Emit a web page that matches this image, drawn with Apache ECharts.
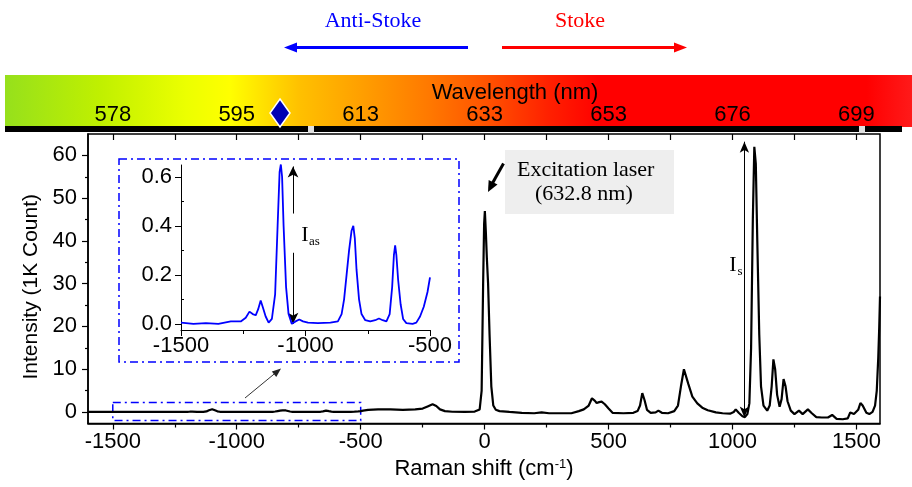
<!DOCTYPE html>
<html>
<head>
<meta charset="utf-8">
<script src="https://cdn.jsdelivr.net/npm/echarts@6/dist/echarts.min.js"></script>
<style>html,body{margin:0;padding:0;background:#fff}#c{width:912px;height:487px}</style>
</head>
<body>
<div id="c"></div>
<script>
// ---- data (Raman shift in cm^-1, intensity in 1K counts) ----
const ramanShift = [-1600,-1550,-1500,-1450,-1400,-1350,-1300,-1260,-1240,-1225,-1212,-1200,-1190,-1180,-1172,-1160,-1148,-1135,-1122,-1112,-1104,-1099,-1094,-1088,-1078,-1068,-1055,-1040,-1025,-1010,-990,-950,-900,-870,-855,-845,-835,-825,-815,-808,-802,-795,-785,-775,-760,-740,-720,-705,-690,-675,-662,-652,-645,-640,-635,-628,-618,-608,-595,-570,-555,-540,-525,-510,-500,-490,-470,-430,-380,-330,-280,-250,-230,-210,-195,-180,-160,-130,-80,-40,-20,-12,-6,-2,1,5,9,14,20,27,35,45,60,100,150,200,230,260,300,350,380,400,420,433,445,452,462,472,485,500,516,560,600,617,627,636,645,655,670,690,701,715,740,765,780,792,804,812,822,838,858,878,900,933,960,990,1005,1013,1025,1040,1050,1060,1068,1075,1082,1088,1094,1100,1108,1115,1125,1140,1150,1158,1165,1172,1180,1190,1198,1206,1214,1222,1235,1250,1268,1283,1304,1320,1338,1360,1385,1402,1420,1445,1465,1475,1490,1507,1516,1525,1540,1552,1565,1575,1582,1588,1592,1595];
const intensity = [0,0.002,0.005,0,0.003,0,0.01,0.01,0.025,0.05,0.04,0.035,0.06,0.095,0.07,0.03,0.005,0.02,0.12,0.4,0.62,0.65,0.6,0.4,0.15,0.04,0,0.01,0.018,0.01,0.005,0.003,0.005,0.01,0.04,0.1,0.2,0.3,0.38,0.4,0.35,0.22,0.1,0.04,0.015,0.01,0.015,0.022,0.015,0.01,0.04,0.15,0.28,0.32,0.28,0.18,0.08,0.02,0.003,0,0.005,0.03,0.07,0.13,0.19,0.3,0.5,0.6,0.6,0.5,0.6,0.8,1.3,1.8,1.4,0.6,0.2,0.05,0,0.1,0.6,5,30,44,47,42,36,30,18,6,1.5,0.5,0.2,0,-0.2,-0.3,-0.1,-0.3,-0.3,-0.3,0.2,0.6,1.5,3.2,2.6,2.1,2.3,2.4,1.8,0.8,-0.2,-0.3,-0.2,0.2,1.5,4.4,2.8,0.5,-0.2,-0.1,0.3,-0.2,-0.3,0.2,1.5,6,10,9.6,6.5,3.6,2,1,0.4,-0.1,-0.3,-0.4,0,0.6,-0.2,-1.0,-1.2,-0.5,2,15,45,62,58,40,18,6,1.5,0.3,1.5,6,12.3,10,4,1.2,3,7.7,6,2.5,0.3,-0.5,0.3,-0.5,0.6,-0.3,-1.2,-1.3,-1.3,-0.7,-1.6,-1.7,-1.5,-0.1,-0.5,0.5,2.1,1.5,-0.2,-0.5,0,1.5,5,12.7,20,27];

const xMajorTicks = [-1500,-1000,-500,0,500,1000,1500];
const xMinorTicks = [-1250,-750,-250,250,750,1250];
const yMajorTicks = [0,10,20,30,40,50,60];
const yMinorTicks = [5,15,25,35,45,55];
const wavelengthLabels = ['578','595','613','633','653','676','699'];
const insetXMajor = [-1500,-1000,-500];
const insetXMinor = [-1250,-750];
const insetYMajor = [0,0.2,0.4,0.6];
const insetYMinor = [0.1,0.3,0.5];
const insetYLabels = ['0.0','0.2','0.4','0.6'];

const mainData = ramanShift.map((x,i)=>[x,intensity[i]]);
const insetData = mainData.filter(p=>p[0]>=-1500 && p[0]<=-500);

const SANS = 'Liberation Sans, Arial, sans-serif';
const SERIF = 'Liberation Serif, Times New Roman, serif';
const allTop = xMajorTicks.concat(xMinorTicks).sort((a,b)=>a-b);
const plain = (v)=>String(v);

const chart = echarts.init(document.getElementById('c'), null, {renderer:'canvas'});

function arrowHead(tip, from, len, half, color){
  const dx = tip[0]-from[0], dy = tip[1]-from[1];
  const L = Math.sqrt(dx*dx+dy*dy); const ux=dx/L, uy=dy/L;
  const bx = tip[0]-ux*len, by = tip[1]-uy*len;
  return {type:'polygon', z:10, shape:{points:[tip,[bx-uy*half,by+ux*half],[bx+uy*half,by-ux*half]]}, style:{fill:color}};
}

const option = {
  animation:false,
  backgroundColor:'#fff',
  grid:[
    {left:88, right:32, top:134, bottom:63.5, show:true, borderColor:'#000', borderWidth:1.5, backgroundColor:'transparent'},
    {left:181, right:482, top:165, bottom:157}
  ],
  xAxis:[
    {gridIndex:0, type:'value', min:-1600, max:1595, position:'bottom',
     axisLine:{show:true, onZero:false, lineStyle:{color:'#000', width:1.5}},
     axisTick:{show:true, length:6, customValues:xMajorTicks, lineStyle:{color:'#000', width:1.2}},
     axisLabel:{customValues:xMajorTicks, formatter:plain, fontSize:22, color:'#000', fontFamily:SANS, margin:7},
     splitLine:{show:false},
     name:'{a|Raman shift (cm}{s|-1}{a|)}', nameLocation:'middle', nameGap:34,
     nameTextStyle:{rich:{a:{fontSize:22, fontFamily:SANS, color:'#000'}, s:{fontSize:13, fontFamily:SANS, color:'#000', padding:[0,0,10,0]}}}},
    {gridIndex:0, type:'value', min:-1600, max:1595, position:'bottom',
     axisLine:{show:false, onZero:false}, axisTick:{show:true, length:4, customValues:xMinorTicks, lineStyle:{color:'#000', width:1.2}},
     axisLabel:{show:false}, splitLine:{show:false}},
    {gridIndex:0, type:'value', min:-1600, max:1595, position:'top',
     axisLine:{show:false, onZero:false}, axisTick:{show:true, inside:true, length:6, customValues:allTop, lineStyle:{color:'#000', width:1.2}},
     axisLabel:{customValues:xMajorTicks, margin:8, fontSize:22, color:'#000', fontFamily:SANS,
       formatter:(v)=>{const i=xMajorTicks.indexOf(v); return i>=0?wavelengthLabels[i]:'';}},
     splitLine:{show:false}},
    {gridIndex:1, type:'value', min:-1500, max:-500, position:'bottom',
     axisLine:{show:true, onZero:false, lineStyle:{color:'#000', width:1}},
     axisTick:{show:true, length:6, customValues:insetXMajor, lineStyle:{color:'#000'}},
     axisLabel:{customValues:insetXMajor, formatter:plain, fontSize:22, color:'#000', fontFamily:SANS, margin:5},
     splitLine:{show:false}},
    {gridIndex:1, type:'value', min:-1500, max:-500, position:'bottom',
     axisLine:{show:false, onZero:false}, axisTick:{show:true, length:4, customValues:insetXMinor, lineStyle:{color:'#000'}},
     axisLabel:{show:false}, splitLine:{show:false}}
  ],
  yAxis:[
    {gridIndex:0, type:'value', min:-2.7, max:65, position:'left',
     axisLine:{show:true, onZero:false, lineStyle:{color:'#000', width:1.5}},
     axisTick:{show:true, length:6, customValues:yMajorTicks, lineStyle:{color:'#000', width:1.2}},
     axisLabel:{customValues:yMajorTicks, formatter:plain, fontSize:22, color:'#000', fontFamily:SANS, margin:11},
     splitLine:{show:false},
     name:'Intensity (1K Count)', nameLocation:'middle', nameGap:46,
     nameTextStyle:{fontSize:21, fontFamily:SANS, color:'#000', padding:[0,16,0,0]}},
    {gridIndex:0, type:'value', min:-2.7, max:65, position:'left',
     axisLine:{show:false, onZero:false}, axisTick:{show:true, length:3, customValues:yMinorTicks, lineStyle:{color:'#000', width:1.2}},
     axisLabel:{show:false}, splitLine:{show:false}},
    {gridIndex:1, type:'value', min:-0.025, max:0.648, position:'left',
     axisLine:{show:true, onZero:false, lineStyle:{color:'#000', width:1}},
     axisTick:{show:true, length:6, customValues:insetYMajor, lineStyle:{color:'#000'}},
     axisLabel:{customValues:insetYMajor, fontSize:22, color:'#000', fontFamily:SANS, margin:9,
       formatter:(v)=>{const i=insetYMajor.indexOf(v); return i>=0?insetYLabels[i]:v.toFixed(1);}},
     splitLine:{show:false}},
    {gridIndex:1, type:'value', min:-0.025, max:0.648, position:'left',
     axisLine:{show:false, onZero:false}, axisTick:{show:true, inside:true, length:3, customValues:insetYMinor, lineStyle:{color:'#000'}},
     axisLabel:{show:false}, splitLine:{show:false}}
  ],
  series:[
    {type:'line', xAxisIndex:0, yAxisIndex:0, data:mainData, symbol:'none', z:5,
     lineStyle:{color:'#000', width:2.2}, clip:true,
     markArea:{silent:true, itemStyle:{color:'rgba(0,0,0,0)', borderColor:'#0000ff', borderWidth:1.5, borderType:[8,4,2,4]},
       data:[[{coord:[-1500,2.2]},{coord:[-500,-2.0]}]]},
     markLine:{silent:true, symbol:['arrow','arrow'], symbolSize:[7,11], label:{show:false},
       lineStyle:{color:'#000', width:1, type:'solid'},
       data:[[{coord:[1048,-1.3]},{coord:[1048,63.2]}]]}
    },
    {type:'line', xAxisIndex:3, yAxisIndex:2, data:insetData, symbol:'none', z:5,
     lineStyle:{color:'#0000ff', width:1.8},
     markLine:{silent:true, symbol:['none','arrow'], symbolSize:[8,11], label:{show:false},
       lineStyle:{color:'#000', width:1, type:'solid'},
       data:[[{coord:[-1050,0.29]},{coord:[-1050,0.0]}],[{coord:[-1050,0.45]},{coord:[-1050,0.642]}]]}
    }
  ],
  graphic:[
    // wavelength colour bar
    {type:'rect', z:-1, shape:{x:5, y:75, width:907, height:52},
     style:{fill:new echarts.graphic.LinearGradient(0,0,1,0,[
       {offset:0, color:'#96e01c'},{offset:0.105, color:'#c0f000'},{offset:0.2, color:'#ecff00'},
       {offset:0.248, color:'#ffff00'},{offset:0.325, color:'#ffc000'},{offset:0.391, color:'#ffa000'},
       {offset:0.469, color:'#ff7800'},{offset:0.535, color:'#ff5000'},{offset:0.6, color:'#ff2000'},
       {offset:0.656, color:'#ff0000'},{offset:0.95, color:'#ff0000'},{offset:1, color:'#ff1a1a'}])}},
    {type:'rect', z:0, shape:{x:5, y:126, width:897, height:6}, style:{fill:'#000'}},
    {type:'rect', z:1, shape:{x:308, y:126, width:6, height:7}, style:{fill:'#e0e0e0'}},
    {type:'rect', z:1, shape:{x:859, y:126, width:6, height:7}, style:{fill:'#e0e0e0'}},
    {type:'text', z:2, style:{x:515, y:93, text:'Wavelength (nm)', fontSize:22, fontFamily:SANS, fill:'#000', align:'center', verticalAlign:'middle'}},
    {type:'polygon', z:3, shape:{points:[[280,99],[290,113],[280,127],[270,113]]}, style:{fill:'#0000b4', stroke:'#fff', lineWidth:1.5}},
    // Anti-Stoke / Stoke
    {type:'text', style:{x:373, y:21, text:'Anti-Stoke', fontSize:22, fontFamily:SERIF, fill:'#0000ff', align:'center', verticalAlign:'middle'}},
    {type:'text', style:{x:580, y:21, text:'Stoke', fontSize:22, fontFamily:SERIF, fill:'#ff0000', align:'center', verticalAlign:'middle'}},
    {type:'line', shape:{x1:468, y1:47.5, x2:294, y2:47.5}, style:{stroke:'#0000ff', lineWidth:3}},
    arrowHead([284,47.5],[300,47.5],13,5,'#0000ff'),
    {type:'line', shape:{x1:502, y1:47.5, x2:676, y2:47.5}, style:{stroke:'#ff0000', lineWidth:3}},
    arrowHead([687,47.5],[670,47.5],13,5,'#ff0000'),
    // excitation annotation
    {type:'rect', z:1, shape:{x:505, y:150, width:169, height:64}, style:{fill:'#eeeeee'}},
    {type:'text', z:2, style:{x:517, y:170, text:'Excitation laser', fontSize:22, fontFamily:SERIF, fill:'#000', align:'left', verticalAlign:'middle'}},
    {type:'text', z:2, style:{x:535, y:194, text:'(632.8 nm)', fontSize:22, fontFamily:SERIF, fill:'#000', align:'left', verticalAlign:'middle'}},
    {type:'line', z:10, shape:{x1:503.5, y1:163.5, x2:492, y2:184}, style:{stroke:'#000', lineWidth:3}},
    arrowHead([488,192],[494,180.5],11,5,'#000'),
    // I_s and I_as labels
    {type:'text', z:10, style:{x:733, y:265, text:'I', fontSize:22, fontFamily:SERIF, fill:'#000', align:'center', verticalAlign:'middle'}},
    {type:'text', z:10, style:{x:740, y:272, text:'s', fontSize:13, fontFamily:SERIF, fill:'#000', align:'center', verticalAlign:'middle'}},
    {type:'text', z:10, style:{x:305, y:235, text:'I', fontSize:22, fontFamily:SERIF, fill:'#000', align:'center', verticalAlign:'middle'}},
    {type:'text', z:10, style:{x:309, y:242, text:'as', fontSize:13, fontFamily:SERIF, fill:'#000', align:'left', verticalAlign:'middle'}},
    // inset frame
    {type:'rect', z:4, shape:{x:119, y:159, width:340, height:203}, style:{fill:'none', stroke:'#0000ff', lineWidth:1.5, lineDash:[8,4,2,4]}},
    // pointer arrow to inset
    {type:'line', z:10, shape:{x1:245, y1:398, x2:276, y2:372.5}, style:{stroke:'#333', lineWidth:1}},
    arrowHead([281,368.5],[245,398],9,3.5,'#222')
  ]
};
chart.setOption(option);
</script>
</body>
</html>
